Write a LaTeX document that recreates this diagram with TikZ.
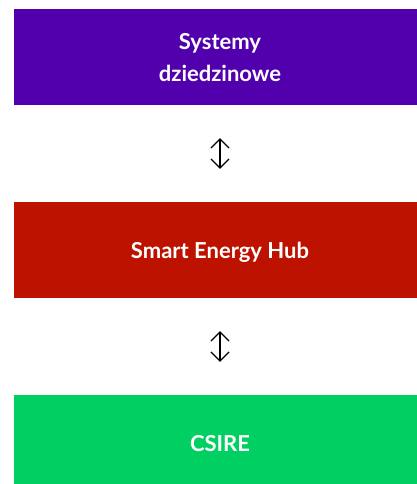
\documentclass[tikz,border=0pt]{standalone}
\usepackage{fontspec}
\setmainfont{Lato}
\usetikzlibrary{arrows.meta}
\definecolor{sysviolet}{RGB}{82,0,174}
\definecolor{hubred}{RGB}{190,18,0}
\definecolor{csiregreen}{RGB}{0,208,98}
\tikzset{
  layerbox/.style={rectangle,minimum width=412pt,minimum height=96pt,inner sep=0pt,
    text=white,font=\fontsize{22}{32}\selectfont\bfseries,align=center,text depth=0pt},
  linkarrow/.style={{Straight Barb[length=9pt,width=18pt]}-{Straight Barb[length=9pt,width=18pt]},
    line width=1.2pt,shorten >=33pt,shorten <=33pt}
}
\begin{document}
\begin{tikzpicture}[x=1pt,y=-1pt]
\useasboundingbox (0,0) rectangle (417,484);
%Node Coordinates
\node at (220,57) [layerbox,fill=sysviolet] (Node1) {Systemy\\dziedzinowe};
\node at (220,250) [layerbox,fill=hubred] (Node2) {Smart Energy Hub};
\node at (220,443) [layerbox,fill=csiregreen] (Node3) {CSIRE};
%connections
\draw [linkarrow] (Node1) -- (Node2);
\draw [linkarrow] (Node2) -- (Node3);
\end{tikzpicture}
\end{document}
